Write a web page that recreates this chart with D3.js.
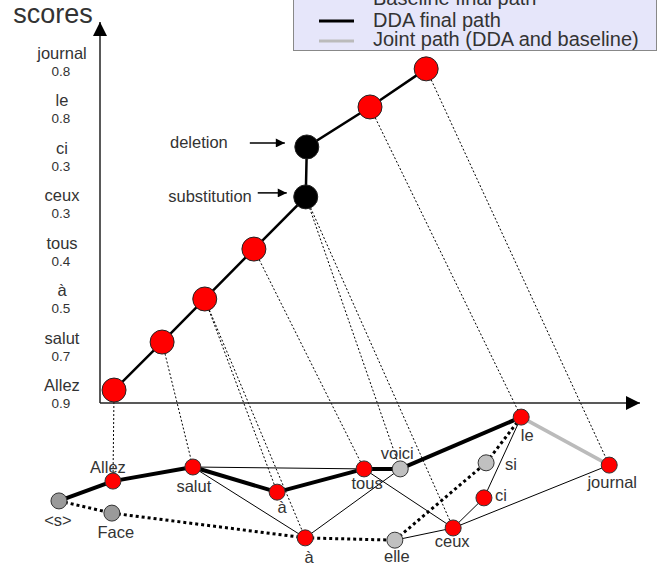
<!DOCTYPE html>
<html>
<head>
<meta charset="utf-8">
<script src="https://cdn.jsdelivr.net/npm/d3@7"></script>
<style>
  body { margin: 0; background: #fff; }
  text { font-family: "Liberation Sans", Arial, sans-serif; fill: #333; }
</style>
</head>
<body>
<div id="chart"></div>
<script>
// upper plot: the final path, one point per hypothesis word, with its score
const scoreWords = ["Allez", "salut", "à", "tous", "ceux", "ci", "le", "journal"];
const scoreValues = [0.9, 0.7, 0.5, 0.4, 0.3, 0.3, 0.8, 0.8];
const pathX = [0.26, 1.15, 1.94, 2.85, 3.81, 3.83, 5.00, 6.04];
const pathY = [0.34, 1.60, 2.73, 4.04, 5.41, 6.72, 7.77, 8.77];
const pathEdits = [null, null, null, null, "substitution", "deletion", null, null];

// lower part: the word lattice
const latticeIds = ["s", "Allez", "Face", "salut", "a1", "a2", "tous", "voici", "elle", "le", "si", "ci", "ceux", "journal"];
const latticeWords = ["<s>", "Allez", "Face", "salut", "à", "à", "tous", "voici", "elle", "le", "si", "ci", "ceux", "journal"];
const latticeX = [-0.76, 0.24, 0.22, 1.72, 3.28, 3.80, 4.89, 5.56, 5.46, 7.80, 7.15, 7.11, 6.54, 9.43];
const latticeY = [-2.57, -2.05, -2.89, -1.68, -2.34, -3.54, -1.73, -1.73, -3.60, -0.37, -1.57, -2.49, -3.28, -1.63];
const latticeGroup = [1, 0, 1, 0, 0, 0, 0, 2, 2, 0, 2, 0, 0, 0];

// edges: [from, to, kind]
const latticeEdges = [
  ["salut", "tous", "arc"],
  ["salut", "a2", "arc"],
  ["a2", "voici", "arc"],
  ["tous", "ceux", "arc"],
  ["elle", "ceux", "arc"],
  ["ceux", "ci", "arc"],
  ["ci", "le", "arc"],
  ["ceux", "journal", "arc"],
  ["s", "Face", "baseline"],
  ["Face", "a2", "baseline"],
  ["a2", "elle", "baseline"],
  ["elle", "si", "baseline"],
  ["si", "le", "baseline"],
  ["s", "Allez", "dda"],
  ["Allez", "salut", "dda"],
  ["salut", "a1", "dda"],
  ["a1", "tous", "dda"],
  ["tous", "voici", "dda"],
  ["voici", "le", "dda"],
  ["le", "journal", "joint"]
];

// which lattice node each path point comes from
const projections = [
  [0, "Allez"], [1, "salut"], [2, "a1"], [2, "a2"], [3, "tous"],
  [4, "voici"], [4, "ceux"], [6, "le"], [7, "journal"]
];

const legendLabels = ["Baseline final path", "DDA final path", "Joint path (DDA and baseline)"];
const legendKinds = ["baseline", "dda", "joint"];

const width = 664, height = 571;

const svg = d3.select("#chart").append("svg")
    .attr("width", width)
    .attr("height", height);

const defs = svg.append("defs");
defs.append("marker")
    .attr("id", "head")
    .attr("viewBox", "0 0 10 10")
    .attr("refX", 10).attr("refY", 5)
    .attr("markerUnits", "userSpaceOnUse")
    .attr("markerWidth", 20).attr("markerHeight", 14)
    .attr("orient", "auto")
  .append("path")
    .attr("d", "M0,0L10,5L0,10Z")
    .attr("fill", "#000");
defs.append("marker")
    .attr("id", "small")
    .attr("viewBox", "0 0 10 10")
    .attr("refX", 10).attr("refY", 5)
    .attr("markerUnits", "userSpaceOnUse")
    .attr("markerWidth", 16).attr("markerHeight", 9)
    .attr("orient", "auto")
  .append("path")
    .attr("d", "M0,0L10,5L0,10Z")
    .attr("fill", "#000");

const x = d3.scaleLinear().domain([0, 10]).range([100, 640]);
const y = d3.scaleLinear().domain([0, 10]).range([403, 22]);
const yWord = d3.scalePoint().domain(scoreWords).range([391, 59]);

const fill = d3.scaleOrdinal().domain([0, 1, 2]).range(["#ff0000", "#9a9a9a", "#c0c0c0"]);

const edgeStyle = {
  arc: { w: 1, c: "#000", dash: null },
  baseline: { w: 3, c: "#000", dash: "3,3" },
  dda: { w: 4, c: "#000", dash: null },
  joint: { w: 3.5, c: "#bbb", dash: null }
};

const pathNodes = scoreWords.map((w, i) => ({ word: w, score: scoreValues[i], x: pathX[i], y: pathY[i], edit: pathEdits[i] }));
const latNodes = latticeIds.map((id, i) => ({ id, word: latticeWords[i], x: latticeX[i], y: latticeY[i], group: latticeGroup[i] }));
const byId = new Map(latNodes.map(d => [d.id, d]));

// legend (runs off the top edge)
const legend = svg.append("g");
legend.append("rect")
    .attr("x", 293.5).attr("y", -12)
    .attr("width", 363).attr("height", 62.5)
    .attr("fill", "#e6e6fa")
    .attr("stroke", "#888");
legendLabels.forEach((lab, i) => {
  const s = edgeStyle[legendKinds[i]];
  const ly = [-2, 21, 41][i];
  legend.append("line")
      .attr("x1", 319).attr("x2", 354)
      .attr("y1", ly).attr("y2", ly)
      .attr("stroke", s.c)
      .attr("stroke-width", 3)
      .attr("stroke-dasharray", s.dash);
  legend.append("text")
      .attr("x", 373).attr("y", [5, 27, 46][i])
      .attr("font-size", 20)
      .text(lab);
});

// projection lines
svg.append("g")
  .selectAll("line")
  .data(projections)
  .join("line")
    .attr("x1", d => x(pathNodes[d[0]].x))
    .attr("y1", d => y(pathNodes[d[0]].y))
    .attr("x2", d => x(byId.get(d[1]).x))
    .attr("y2", d => y(byId.get(d[1]).y))
    .attr("stroke", "#000")
    .attr("stroke-width", 1)
    .attr("stroke-dasharray", "2,2");

// axes
svg.append("line")
    .attr("x1", x(0)).attr("y1", y(0))
    .attr("x2", x(0)).attr("y2", y(10))
    .attr("stroke", "#222").attr("stroke-width", 1.5)
    .attr("marker-end", "url(#head)");
svg.append("line")
    .attr("x1", x(0)).attr("y1", y(0))
    .attr("x2", x(10)).attr("y2", y(0))
    .attr("stroke", "#222").attr("stroke-width", 1.5)
    .attr("marker-end", "url(#head)");

svg.append("text")
    .attr("x", 53).attr("y", 23)
    .attr("text-anchor", "middle")
    .attr("font-size", 27)
    .text("scores");

const ticks = svg.append("g")
  .selectAll("g")
  .data(pathNodes)
  .join("g");
ticks.append("text")
    .attr("x", 62).attr("y", d => yWord(d.word))
    .attr("text-anchor", "middle")
    .attr("font-size", 16.5)
    .text(d => d.word);
ticks.append("text")
    .attr("x", 61).attr("y", d => yWord(d.word) + 17)
    .attr("text-anchor", "middle")
    .attr("font-size", 13.5)
    .text(d => d3.format(".1f")(d.score));

// final path in the score plot
svg.append("path")
    .datum(pathNodes)
    .attr("d", d3.line().x(d => x(d.x)).y(d => y(d.y)))
    .attr("fill", "none")
    .attr("stroke", "#000")
    .attr("stroke-width", 2.5);

svg.append("g")
  .selectAll("circle")
  .data(pathNodes)
  .join("circle")
    .attr("cx", d => x(d.x))
    .attr("cy", d => y(d.y))
    .attr("r", 12)
    .attr("fill", d => d.edit ? "#000" : "#ff0000")
    .attr("stroke", "#222");

// edit annotations
const editLabel = { deletion: { end: -79, a1: -57, a2: -22, ty: 1 }, substitution: { end: -54, a1: -48, a2: -19, ty: 5 } };
const edits = svg.append("g")
  .selectAll("g")
  .data(pathNodes.filter(d => d.edit))
  .join("g");
edits.append("text")
    .attr("x", d => x(d.x) + editLabel[d.edit].end)
    .attr("y", d => y(d.y) + editLabel[d.edit].ty)
    .attr("text-anchor", "end")
    .attr("font-size", 16.5)
    .text(d => d.edit);
edits.append("line")
    .attr("x1", d => x(d.x) + editLabel[d.edit].a1)
    .attr("x2", d => x(d.x) + editLabel[d.edit].a2)
    .attr("y1", d => y(d.y) - 4)
    .attr("y2", d => y(d.y) - 4)
    .attr("stroke", "#000")
    .attr("stroke-width", 1.5)
    .attr("marker-end", "url(#small)");

// lattice edges
svg.append("g")
  .selectAll("line")
  .data(latticeEdges)
  .join("line")
    .attr("x1", d => x(byId.get(d[0]).x))
    .attr("y1", d => y(byId.get(d[0]).y))
    .attr("x2", d => x(byId.get(d[1]).x))
    .attr("y2", d => y(byId.get(d[1]).y))
    .attr("stroke", d => edgeStyle[d[2]].c)
    .attr("stroke-width", d => edgeStyle[d[2]].w)
    .attr("stroke-dasharray", d => edgeStyle[d[2]].dash);

svg.append("g")
  .selectAll("circle")
  .data(latNodes)
  .join("circle")
    .attr("cx", d => x(d.x))
    .attr("cy", d => y(d.y))
    .attr("r", 8)
    .attr("fill", d => fill(d.group))
    .attr("stroke", "#333");

// where each lattice label sits relative to its node
const labelOffset = {
  s: [-1, 25], Allez: [-5, -8], Face: [4, 25], salut: [1, 25], a1: [5, 21], a2: [4, 25],
  tous: [3, 20], voici: [-3, -10], elle: [2, 22], le: [6, 24], si: [19, 7, "start"],
  ci: [11, 3, "start"], ceux: [-1, 19], journal: [3, 23]
};
svg.append("g")
  .selectAll("text")
  .data(latNodes)
  .join("text")
    .attr("x", d => x(d.x) + labelOffset[d.id][0])
    .attr("y", d => y(d.y) + labelOffset[d.id][1])
    .attr("text-anchor", d => labelOffset[d.id][2] || "middle")
    .attr("font-size", 16.5)
    .text(d => d.word);
</script>
</body>
</html>
